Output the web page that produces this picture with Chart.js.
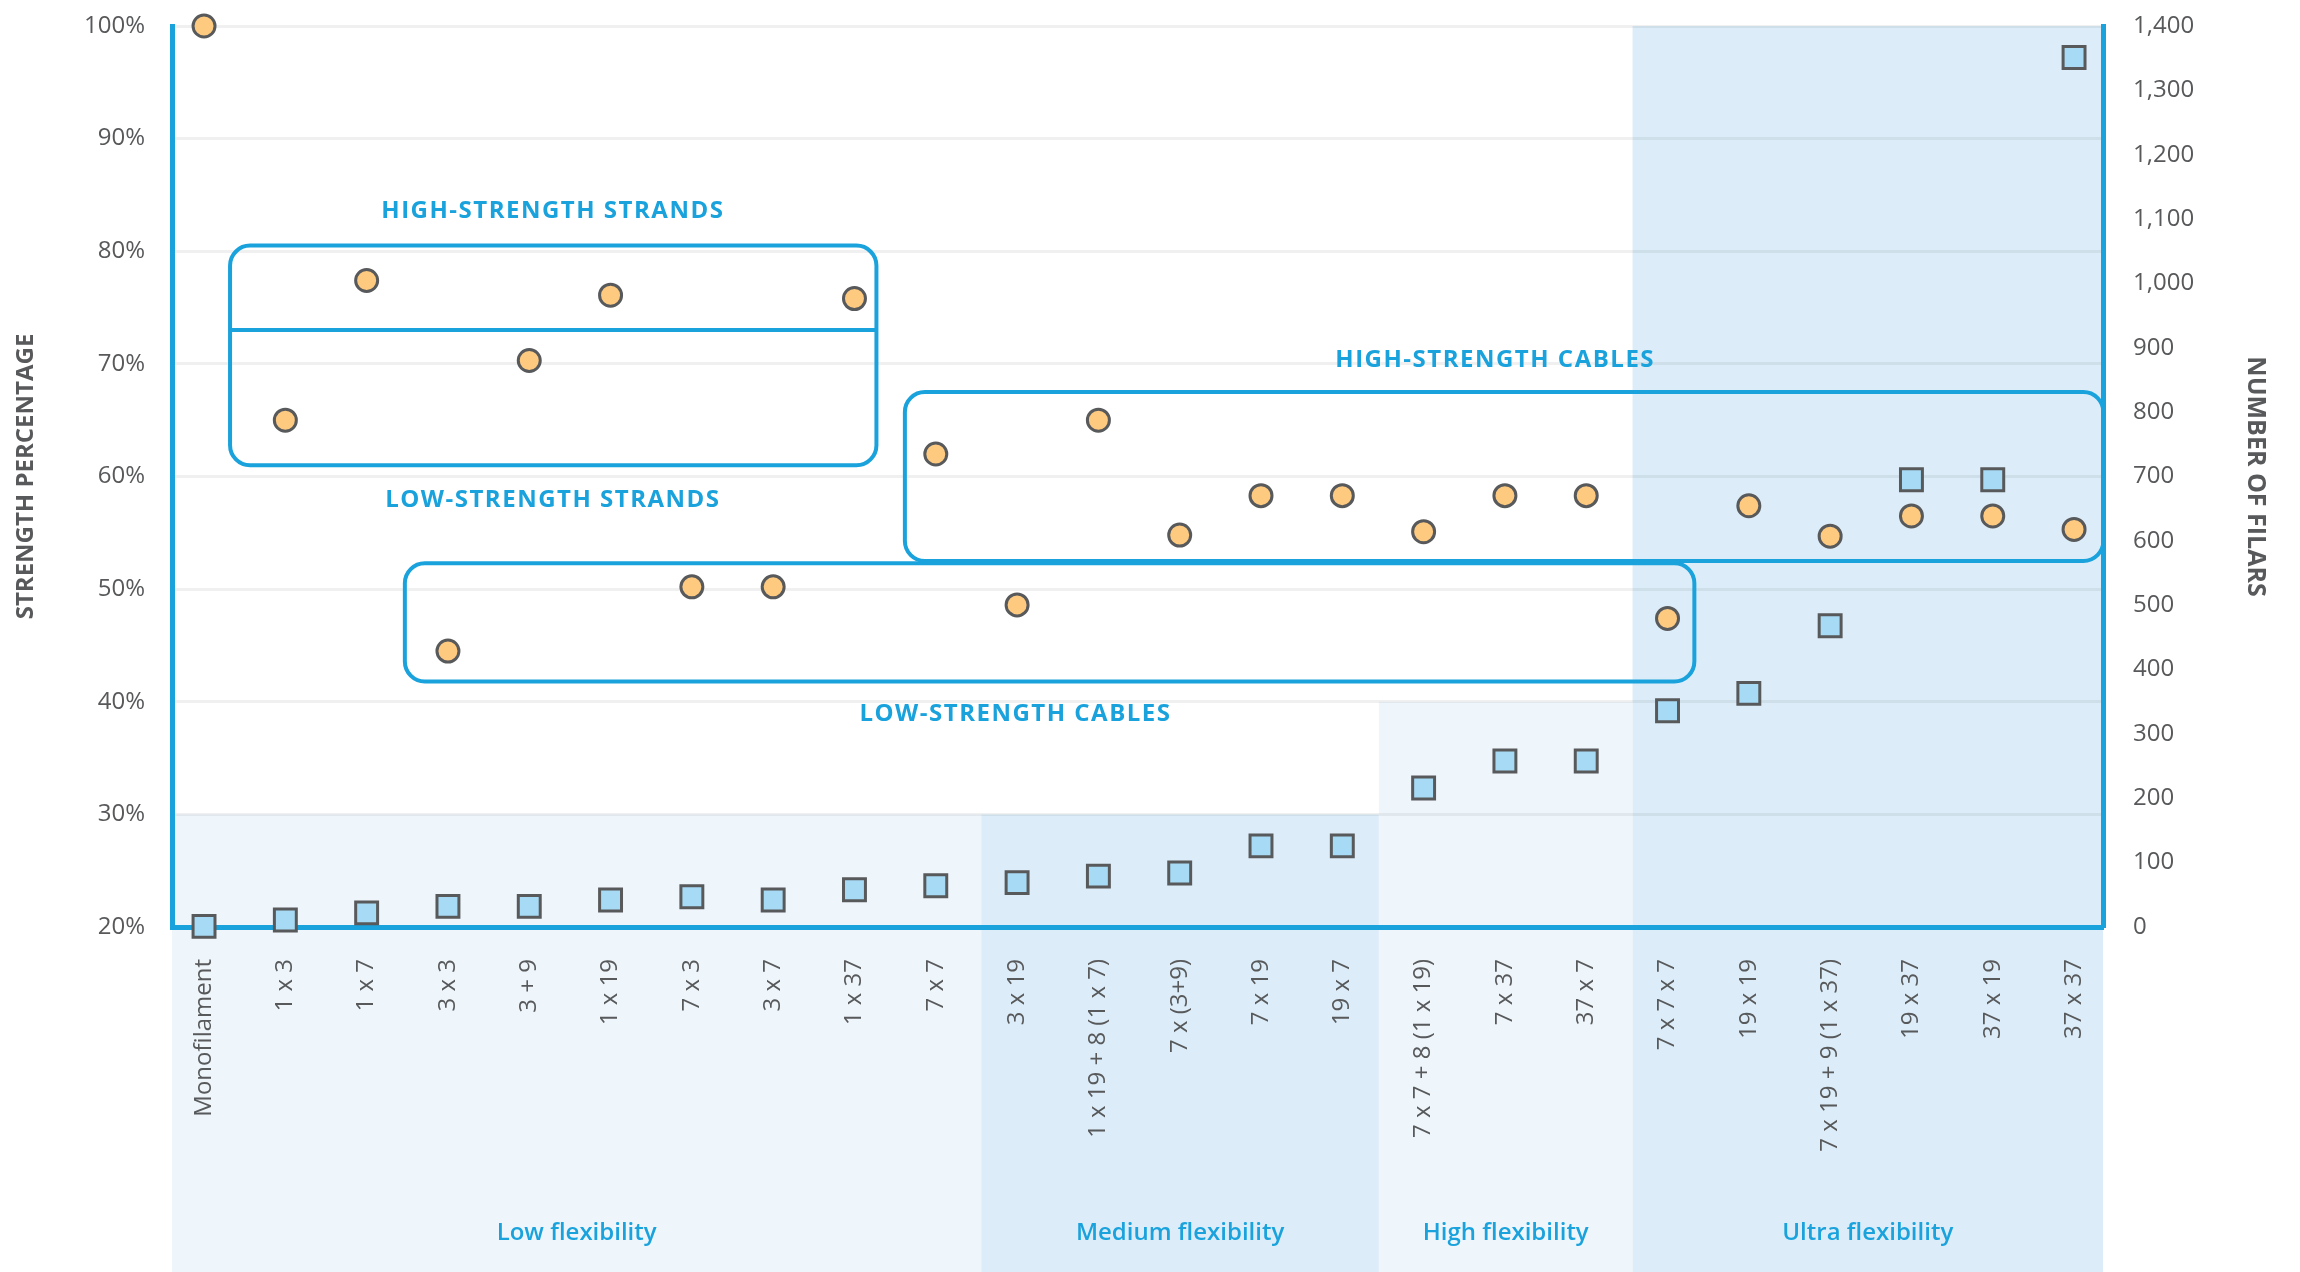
<!DOCTYPE html>
<html>
<head>
<meta charset="utf-8">
<script src="https://cdn.jsdelivr.net/npm/chart.js@4.4.1/dist/chart.umd.min.js"></script>
<style>
  html, body { margin: 0; padding: 0; background: #fff; }
  canvas { display: block; }
</style>
</head>
<body>
<canvas id="grafico" width="2300" height="1272"></canvas>
<script>
/* Datos del gráfico */
var categorias = ['Monofilament', '1 x 3', '1 x 7', '3 x 3', '3 + 9', '1 x 19', '7 x 3', '3 x 7', '1 x 37', '7 x 7',
    '3 x 19', '1 x 19 + 8 (1 x 7)', '7 x (3+9)', '7 x 19', '19 x 7',
    '7 x 7 + 8 (1 x 19)', '7 x 37', '37 x 7',
    '7 x 7 x 7', '19 x 19', '7 x 19 + 9 (1 x 37)', '19 x 37', '37 x 19', '37 x 37'];

// porcentaje de resistencia (eje izquierdo)
var resistencia = [100, 65.0, 77.4, 44.5, 70.3, 76.1, 50.2, 50.2, 75.8, 62.0,
    48.6, 65.0, 54.8, 58.3, 58.3, 55.1, 58.3, 58.3, 47.4, 57.4, 54.7, 56.5, 56.5, 55.3];

// número de filares (eje derecho)
var filares = [1, 11, 22, 32, 32, 42, 47, 42, 58, 64,
    69, 79, 84, 126, 126, 216, 258, 258, 336, 363, 468, 695, 695, 1351];

// grupos de flexibilidad: límites entre grupos (índice de categoría) y altura de la franja (%)
var grupos = ['Low flexibility', 'Medium flexibility', 'High flexibility', 'Ultra flexibility'];
var gruposLimite = [9.56, 14.45, 17.57];
var gruposTope = [30, 30, 40, 100];

// cajas de anotación (x en índice de categoría, y en %)
var cajas = [
    { x1: 0.32, x2: 8.27, y1: 80.5, y2: 61.0, linea: 73.0 },
    { x1: 8.62, x2: 23.36, y1: 67.5, y2: 52.5 },
    { x1: 2.47, x2: 18.33, y1: 52.3, y2: 41.8 }
];
var etiquetas = [
    { texto: 'HIGH-STRENGTH STRANDS', x: 4.29, y: 83.6 },
    { texto: 'LOW-STRENGTH STRANDS', x: 4.29, y: 57.9 },
    { texto: 'HIGH-STRENGTH CABLES', x: 15.88, y: 70.3 },
    { texto: 'LOW-STRENGTH CABLES', x: 9.98, y: 38.9 }
];

var azul = '#1aa2dc';
var gris = '#58595b';

Chart.defaults.font.family = "'Open Sans', sans-serif";
Chart.defaults.color = gris;

/* Franjas de fondo, nombres de grupo y cajas */
var franjas = {
    id: 'franjas',
    beforeDraw: function (chart) {
        var ctx = chart.ctx, x = chart.scales.x, y = chart.scales.y;
        ctx.save();
        for (var g = 0; g < grupos.length; g++) {
            var izq = g === 0 ? x.left : x.getPixelForValue(gruposLimite[g - 1]);
            var der = g === grupos.length - 1 ? x.right : x.getPixelForValue(gruposLimite[g]);
            var arriba = y.getPixelForValue(gruposTope[g]);
            ctx.fillStyle = g % 2 === 0 ? '#eef6fc' : '#dcedf9';
            ctx.fillRect(izq, arriba, der - izq, chart.height - arriba);
            ctx.fillStyle = azul;
            ctx.font = "600 24px 'Open Sans'";
            ctx.textAlign = 'center';
            ctx.textBaseline = 'middle';
            ctx.fillText(grupos[g], (izq + der) / 2, chart.height - 39);
        }
        ctx.restore();
    },
    beforeDatasetsDraw: function (chart) {
        var ctx = chart.ctx, x = chart.scales.x, y = chart.scales.y;
        ctx.save();
        ctx.strokeStyle = azul;
        ctx.lineWidth = 4;
        cajas.forEach(function (c) {
            var x1 = x.getPixelForValue(c.x1), x2 = x.getPixelForValue(c.x2);
            var y1 = y.getPixelForValue(c.y1), y2 = y.getPixelForValue(c.y2);
            ctx.beginPath();
            ctx.roundRect(x1, y1, x2 - x1, y2 - y1, 20);
            ctx.stroke();
            if (c.linea) {
                var yl = y.getPixelForValue(c.linea);
                ctx.beginPath();
                ctx.moveTo(x1, yl);
                ctx.lineTo(x2, yl);
                ctx.stroke();
            }
        });
        ctx.fillStyle = azul;
        ctx.font = "bold 24px 'Open Sans'";
        ctx.letterSpacing = '1.5px';
        ctx.textAlign = 'center';
        ctx.textBaseline = 'middle';
        etiquetas.forEach(function (e) {
            ctx.fillText(e.texto, x.getPixelForValue(e.x), y.getPixelForValue(e.y));
        });
        ctx.restore();
    }
};

var marco = document.getElementById('grafico').getContext('2d');

var grafico = new Chart(marco, {
    type: 'scatter',
    data: {
        datasets: [{
            label: 'Strength',
            data: resistencia.map(function (v, i) { return { x: i, y: v }; }),
            yAxisID: 'y',
            pointStyle: 'circle',
            pointRadius: 11,
            borderWidth: 3,
            borderColor: gris,
            backgroundColor: '#fdca80',
            clip: false
        }, {
            label: 'Filars',
            data: filares.map(function (v, i) { return { x: i, y: v }; }),
            yAxisID: 'y2',
            pointStyle: 'rect',
            pointRadius: 15.5,
            borderWidth: 3,
            borderColor: gris,
            backgroundColor: '#a7dbf5',
            clip: false
        }]
    },
    options: {
        responsive: false,
        animation: false,
        devicePixelRatio: 1,
        events: [],
        layout: { padding: { top: 26, left: 0, right: 0, bottom: 0 } },
        plugins: {
            legend: { display: false },
            tooltip: { enabled: false }
        },
        scales: {
            x: {
                type: 'linear',
                min: -0.394,
                max: 23.356,
                afterBuildTicks: function (eje) {
                    eje.ticks = categorias.map(function (c, i) { return { value: i }; });
                },
                afterFit: function (eje) { eje.height = 345; },
                grid: { display: false },
                border: { color: azul, width: 5 },
                ticks: {
                    autoSkip: false,
                    minRotation: 90,
                    maxRotation: 90,
                    padding: 24,
                    font: { size: 24 },
                    callback: function (v) { return categorias[v]; }
                }
            },
            y: {
                position: 'left',
                min: 20,
                max: 100,
                afterFit: function (eje) {
                    eje.width = 172;
                    eje.paddingTop = 0;
                    eje.paddingBottom = 0;
                },
                grid: { color: 'rgba(0, 0, 0, 0.06)', lineWidth: 3, drawTicks: false },
                border: { color: azul, width: 5 },
                ticks: {
                    stepSize: 10,
                    padding: 27,
                    font: { size: 24 },
                    callback: function (v) { return v + '%'; }
                },
                title: {
                    display: true,
                    text: 'STRENGTH PERCENTAGE',
                    font: { size: 24, weight: 'bold' },
                    padding: { top: 12, bottom: 0 }
                }
            },
            y2: {
                position: 'right',
                min: 0,
                max: 1400,
                afterFit: function (eje) {
                    eje.width = 197;
                    eje.paddingTop = 0;
                    eje.paddingBottom = 0;
                },
                grid: { display: false, drawTicks: false },
                border: { color: azul, width: 5 },
                ticks: {
                    stepSize: 100,
                    padding: 30,
                    font: { size: 24 },
                    callback: function (v) { return v.toLocaleString('en-US'); }
                },
                title: {
                    display: true,
                    text: 'NUMBER OF FILARS',
                    font: { size: 25, weight: 'bold' },
                    padding: { top: 30, bottom: 0 }
                }
            }
        }
    },
    plugins: [franjas]
});
</script>
</body>
</html>
